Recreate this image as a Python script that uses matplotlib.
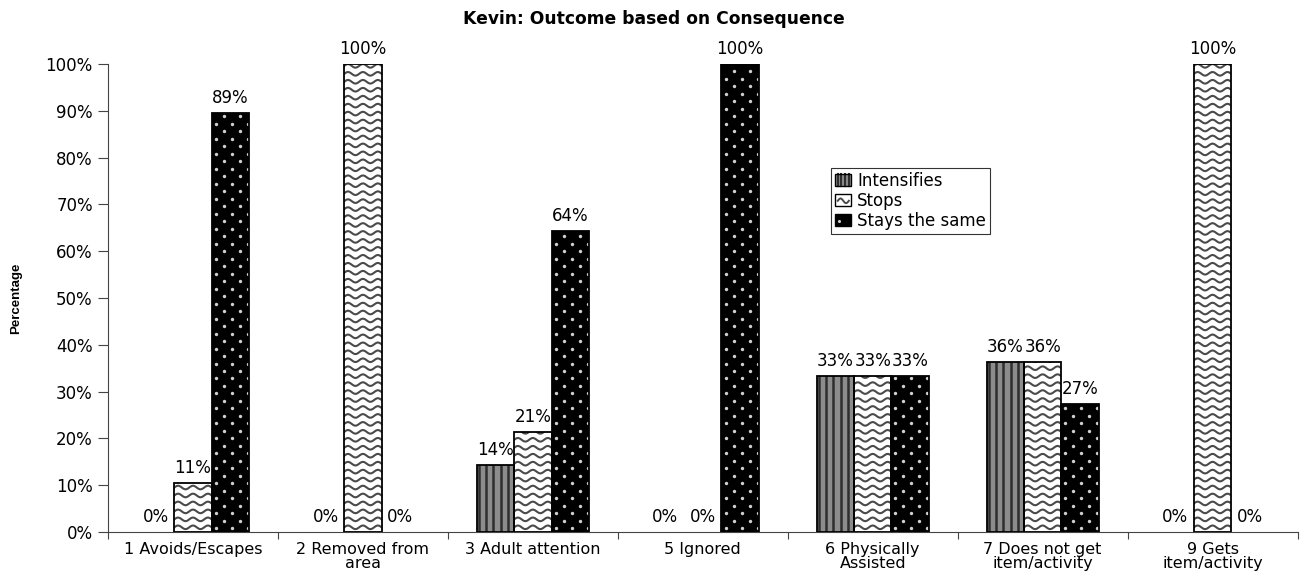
import numpy as np
import matplotlib
matplotlib.use("Agg")
import matplotlib.pyplot as plt
from matplotlib.patches import Rectangle
from matplotlib.lines import Line2D
from matplotlib.legend_handler import HandlerBase
from matplotlib.ticker import FixedLocator, PercentFormatter

plt.rcParams['font.family'] = ['DejaVu Sans']

categories = ["1 Avoids/Escapes", "2 Removed from\narea", "3 Adult attention",
              "5 Ignored", "6 Physically\nAssisted", "7 Does not get\nitem/activity",
              "9 Gets\nitem/activity"]
intensifies = [0, 0, 14.29, 0, 33.33, 36.36, 0]
stops = [10.53, 100, 21.43, 0, 33.33, 36.36, 100]
stays_same = [89.47, 0, 64.29, 100, 33.33, 27.27, 0]
series_names = ["Intensifies", "Stops", "Stays the same"]

GRAY = '#8c8c8c'
STRIPE = '#2e2e2e'
WAVE = '#4a4a4a'
DOT = '#d0d0d0'
FS = 12

fig = plt.figure(figsize=(13.08, 5.75), dpi=100)
ax = fig.add_axes([0.0826, 0.0748, 0.9094, 0.8139])

x = np.arange(len(categories)) + 0.5
w = 0.22


def stripes(ax, bars):
    for b in bars:
        x0, bw, bh = b.get_x(), b.get_width(), b.get_height()
        if bh <= 0:
            continue
        for xs in np.arange(x0 + 0.012, x0 + bw, 0.043):
            ln, = ax.plot([xs, xs], [0, bh], color=STRIPE, lw=1.8, zorder=2.5)
            ln.set_clip_path(b)


def waves(ax, bars):
    for b in bars:
        x0, bw, bh = b.get_x(), b.get_width(), b.get_height()
        if bh <= 0:
            continue
        xs = np.linspace(x0, x0 + bw, 90)
        ph = (xs - x0) / 0.088 * 2 * np.pi
        for yy in np.arange(1.0, bh + 2, 1.7):
            ln, = ax.plot(xs, yy + 0.38 * np.sin(ph), color=WAVE, lw=1.5, zorder=2.5)
            ln.set_clip_path(b)


def dots(ax, bars):
    for b in bars:
        x0, bw, bh = b.get_x(), b.get_width(), b.get_height()
        if bh <= 0:
            continue
        px, py = [], []
        for i, yy in enumerate(np.arange(0.8, bh, 1.6)):
            start = x0 + 0.024 + (0.047 if i % 2 else 0)
            for xx in np.arange(start, x0 + bw, 0.094):
                px.append(xx)
                py.append(yy)
        sc = ax.scatter(px, py, s=6, color=DOT, linewidths=0, zorder=2.5)
        sc.set_clip_path(b)


b1 = ax.bar(x - w, intensifies, w, color=GRAY, lw=0, zorder=2)
b2 = ax.bar(x, stops, w, color='white', lw=0, zorder=2)
b3 = ax.bar(x + w, stays_same, w, color='black', lw=0, zorder=2)
stripes(ax, b1)
waves(ax, b2)
dots(ax, b3)

for vals, off in ((intensifies, -w), (stops, 0), (stays_same, w)):
    for xi, v in zip(x + off, vals):
        if v > 0:
            ax.add_patch(Rectangle((xi - w / 2, 0), w, v, fill=False,
                                   edgecolor='black', lw=1.3, zorder=3))
        ax.text(xi, v + 1.3, f"{round(v):.0f}%", ha='center', va='bottom', fontsize=FS)

ax.set_xlim(0, len(categories))
ax.set_ylim(0, 100)
ax.yaxis.set_major_locator(FixedLocator(np.arange(0, 101, 10)))
ax.yaxis.set_major_formatter(PercentFormatter(100, decimals=0))
ax.xaxis.set_major_locator(FixedLocator(np.arange(0, len(categories) + 1)))
ax.xaxis.set_major_formatter(plt.NullFormatter())
ax.set_xticks(x, minor=True)
ax.set_xticklabels(categories, minor=True, fontsize=11.5, linespacing=0.92)
ax.tick_params(axis='x', which='minor', length=0, pad=7)
ax.tick_params(axis='x', which='major', length=5, direction='out', color='#444444')
ax.tick_params(axis='y', length=7, direction='out', labelsize=FS, pad=4, color='#444444')
for s in ('top', 'right'):
    ax.spines[s].set_visible(False)
ax.spines['left'].set_color('#444444')
ax.spines['bottom'].set_color('#444444')

ax.set_ylabel("Percentage", fontsize=9.5, fontweight='bold', family=['Liberation Sans'])
ax.yaxis.set_label_coords(-0.072, 0.5)
fig.suptitle("Kevin: Outcome based on Consequence", fontsize=12.3, fontweight='bold', y=0.983)


class SwatchHandler(HandlerBase):
    def __init__(self, kind):
        super().__init__()
        self.kind = kind

    def create_artists(self, legend, orig_handle, xdescent, ydescent, width, height,
                       fontsize, trans):
        hw = height * 1.35
        x0, y0 = -xdescent, -ydescent
        arts = []
        if self.kind == 'stripes':
            arts.append(Rectangle((x0, y0), hw, height, facecolor=GRAY, lw=0, transform=trans))
            for k in range(4):
                xs = x0 + hw * (0.15 + 0.23 * k)
                arts.append(Line2D([xs, xs], [y0, y0 + height], color=STRIPE, lw=1.5, transform=trans))
        elif self.kind == 'waves':
            arts.append(Rectangle((x0, y0), hw, height, facecolor='white', lw=0, transform=trans))
            t = np.linspace(0, 1, 20)
            arts.append(Line2D(x0 + hw * (0.15 + 0.7 * t), y0 + height * (0.45 + 0.2 * np.sin(t * 2 * np.pi)),
                               color=WAVE, lw=1.4, transform=trans))
        else:
            arts.append(Rectangle((x0, y0), hw, height, facecolor='black', lw=0, transform=trans))
            arts.append(Line2D([x0 + hw * 0.2], [y0 + height * 0.4], marker='o', ms=1.2,
                               color=DOT, lw=0, transform=trans))
        arts.append(Rectangle((x0, y0), hw, height, fill=False, edgecolor='black', lw=1.0,
                              transform=trans))
        return arts


proxies = [Rectangle((0, 0), 1, 1) for _ in series_names]
kinds = ['stripes', 'waves', 'dots']
leg = ax.legend(proxies, series_names, loc='upper left', bbox_to_anchor=(0.608, 0.778),
                fontsize=FS, frameon=True, fancybox=False, edgecolor='black',
                handlelength=1.0, handleheight=0.7, handletextpad=0.3,
                borderpad=0.25, labelspacing=0.12, borderaxespad=0,
                handler_map={p: SwatchHandler(k) for p, k in zip(proxies, kinds)})
leg.get_frame().set_linewidth(0.8)

fig.savefig("out.png", dpi=100)
